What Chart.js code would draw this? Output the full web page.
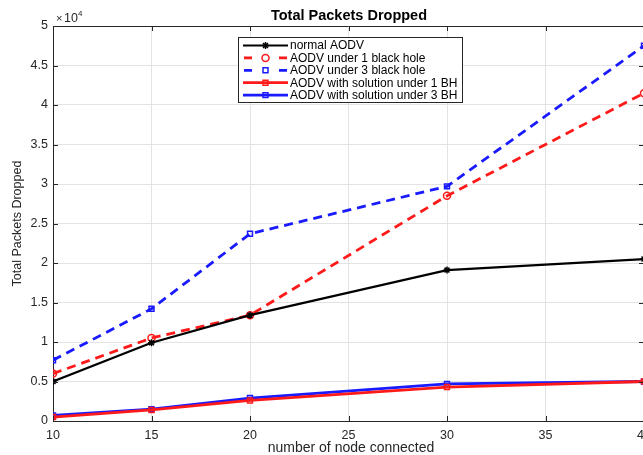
<!DOCTYPE html>
<html>
<head>
<meta charset="utf-8">
<script src="https://cdn.jsdelivr.net/npm/chart.js@4.4.1/dist/chart.umd.min.js"></script>
<style>
  html, body { margin: 0; padding: 0; background: #fff; overflow: hidden; }
  canvas { display: block; }
</style>
</head>
<body>
<canvas id="myChart" width="652" height="455"></canvas>
<script>
// dados (pacotes perdidos)
const nodes = [10, 15, 20, 30, 40];
const normalAODV = [5000, 9900, 13400, 19100, 20500];
const aodv1BH = [6000, 10500, 13400, 28500, 41500];
const aodv3BH = [7700, 14200, 23700, 29700, 47500];
const sol1BH = [500, 1400, 2600, 4300, 5000];
const sol3BH = [700, 1500, 2900, 4700, 5000];

const xTicks = [10, 15, 20, 25, 30, 35, 40];
const yTicks = [0, 0.5, 1, 1.5, 2, 2.5, 3, 3.5, 4, 4.5, 5];

const FONT = '"Liberation Sans", Arial, sans-serif';
const AXIS = '#262626';

function pts(arr) {
    return nodes.map((n, i) => ({ x: n, y: arr[i] }));
}

// desenha titulo, legenda, caixa e marcas
const extras = {
    id: 'extras',
    afterDraw(chart) {
        const ctx = chart.ctx;
        const a = chart.chartArea;
        const xs = chart.scales.x, ys = chart.scales.y;
        ctx.save();

        // caixa e ticks
        ctx.strokeStyle = AXIS;
        ctx.lineWidth = 1;
        ctx.beginPath();
        ctx.moveTo(a.left, a.top + 0.5);
        ctx.lineTo(a.right, a.top + 0.5);
        ctx.moveTo(a.right - 0.5, a.top);
        ctx.lineTo(a.right - 0.5, a.bottom);
        xTicks.forEach(v => {
            const px = Math.round(xs.getPixelForValue(v)) + 0.5;
            ctx.moveTo(px, a.bottom); ctx.lineTo(px, a.bottom - 5);
            ctx.moveTo(px, a.top); ctx.lineTo(px, a.top + 5);
        });
        yTicks.forEach(v => {
            const py = Math.round(ys.getPixelForValue(v * 1e4)) + 0.5;
            ctx.moveTo(a.left, py); ctx.lineTo(a.left + 5, py);
            ctx.moveTo(a.right, py); ctx.lineTo(a.right - 5, py);
        });
        ctx.stroke();

        // titulo
        ctx.fillStyle = '#000';
        ctx.font = 'bold 14.5px ' + FONT;
        ctx.textAlign = 'center';
        ctx.textBaseline = 'middle';
        ctx.fillText('Total Packets Dropped', 349, 16);

        // x10^4
        ctx.fillStyle = AXIS;
        ctx.font = '11px ' + FONT;
        ctx.textAlign = 'left';
        ctx.fillText('\u00d7', a.left + 3, 19);
        ctx.font = '12.5px ' + FONT;
        ctx.fillText('10', a.left + 11, 19);
        ctx.font = '8px ' + FONT;
        ctx.fillText('4', a.left + 25, 14);

        // titulos dos eixos
        ctx.font = '14px ' + FONT;
        ctx.textAlign = 'center';
        ctx.fillText('number of node connected', 351, 448);
        ctx.save();
        ctx.font = '12.5px ' + FONT;
        ctx.translate(18, (a.top + a.bottom) / 2);
        ctx.rotate(-Math.PI / 2);
        ctx.fillText('Total Packets Dropped', 0, 0);
        ctx.restore();

        // legenda
        const bx = 238, by = 37, bw = 224, bh = 65;
        ctx.fillStyle = '#fff';
        ctx.fillRect(bx, by, bw, bh);
        ctx.strokeStyle = '#262626';
        ctx.lineWidth = 1;
        ctx.strokeRect(bx + 0.5, by + 0.5, bw, bh);
        ctx.font = '12px ' + FONT;
        ctx.textAlign = 'left';
        chart.data.datasets.forEach((ds, i) => {
            const y = by + 8.5 + i * 12.4;
            ctx.strokeStyle = ds.borderColor;
            ctx.lineWidth = ds.borderWidth;
            ctx.setLineDash(ds.borderDash || []);
            ctx.beginPath();
            if (ds.borderDash) {
                ctx.moveTo(244, y); ctx.lineTo(252, y);
                ctx.moveTo(279, y); ctx.lineTo(287, y);
            } else {
                ctx.moveTo(243, y); ctx.lineTo(288, y);
            }
            ctx.stroke();
            ctx.setLineDash([]);
            ctx.fillStyle = ds.backgroundColor;
            ctx.strokeStyle = ds.borderColor;
            ctx.lineWidth = ds.pointBorderWidth;
            Chart.helpers.drawPoint(ctx, {
                pointStyle: ds.pointStyle,
                radius: ds.pointRadius,
                borderWidth: ds.pointBorderWidth,
                rotation: 0
            }, 265.5, y);
            ctx.fillStyle = '#000';
            ctx.fillText(ds.label, 290, y + 0.5);
        });
        ctx.restore();
    }
};

const ctx = document.querySelector('#myChart');

new Chart(ctx, {
    type: 'line',
    data: {
        datasets: [
            {
                label: 'normal AODV',
                data: pts(normalAODV),
                borderColor: '#000000',
                backgroundColor: '#000000',
                borderWidth: 2.2,
                pointStyle: 'star',
                pointRadius: 3.5,
                pointBorderWidth: 1.5
            },
            {
                label: 'AODV under 1 black hole',
                data: pts(aodv1BH),
                borderColor: '#ff1a1a',
                backgroundColor: 'rgba(0,0,0,0)',
                borderWidth: 2.8,
                borderDash: [9, 6],
                pointStyle: 'circle',
                pointRadius: 3.5,
                pointBorderWidth: 1.5
            },
            {
                label: 'AODV under 3 black hole',
                data: pts(aodv3BH),
                borderColor: '#1a1aff',
                backgroundColor: 'rgba(0,0,0,0)',
                borderWidth: 2.8,
                borderDash: [9, 6],
                pointStyle: 'rect',
                pointRadius: 3.5,
                pointBorderWidth: 1.5
            },
            {
                label: 'AODV with solution under 1 BH',
                data: pts(sol1BH),
                borderColor: '#ff1a1a',
                backgroundColor: 'rgba(0,0,0,0)',
                borderWidth: 2.8,
                pointStyle: 'rect',
                pointRadius: 3.5,
                pointBorderWidth: 1.5
            },
            {
                label: 'AODV with solution under 3 BH',
                data: pts(sol3BH),
                borderColor: '#1a1aff',
                backgroundColor: 'rgba(0,0,0,0)',
                borderWidth: 2.8,
                pointStyle: 'rect',
                pointRadius: 3.5,
                pointBorderWidth: 1.5
            }
        ]
    },
    options: {
        responsive: false,
        animation: false,
        layout: { padding: { top: 26, right: 8, left: 0, bottom: 0 } },
        plugins: {
            legend: { display: false },
            title: { display: false },
            tooltip: { enabled: false }
        },
        elements: { line: { tension: 0 } },
        scales: {
            x: {
                type: 'linear',
                min: 10,
                max: 40,
                afterBuildTicks: s => { s.ticks = xTicks.map(v => ({ value: v })); },
                afterFit: s => { s.height = 34; s.paddingLeft = 0; s.paddingRight = 0; },
                grid: { color: '#e3e3e3', drawTicks: false },
                border: { color: AXIS, width: 1 },
                ticks: {
                    color: AXIS,
                    padding: 7,
                    maxRotation: 0,
                    font: { family: FONT, size: 12.5 }
                }
            },
            y: {
                min: 0,
                max: 50000,
                afterBuildTicks: s => { s.ticks = yTicks.map(v => ({ value: v * 1e4 })); },
                afterFit: s => { s.width = 53; s.paddingTop = 0; s.paddingBottom = 0; },
                grid: { color: '#e3e3e3', drawTicks: false },
                border: { color: AXIS, width: 1 },
                ticks: {
                    color: AXIS,
                    padding: 5,
                    font: { family: FONT, size: 12.5 },
                    callback: v => String(v / 1e4)
                }
            }
        }
    },
    plugins: [extras]
});
</script>
</body>
</html>
